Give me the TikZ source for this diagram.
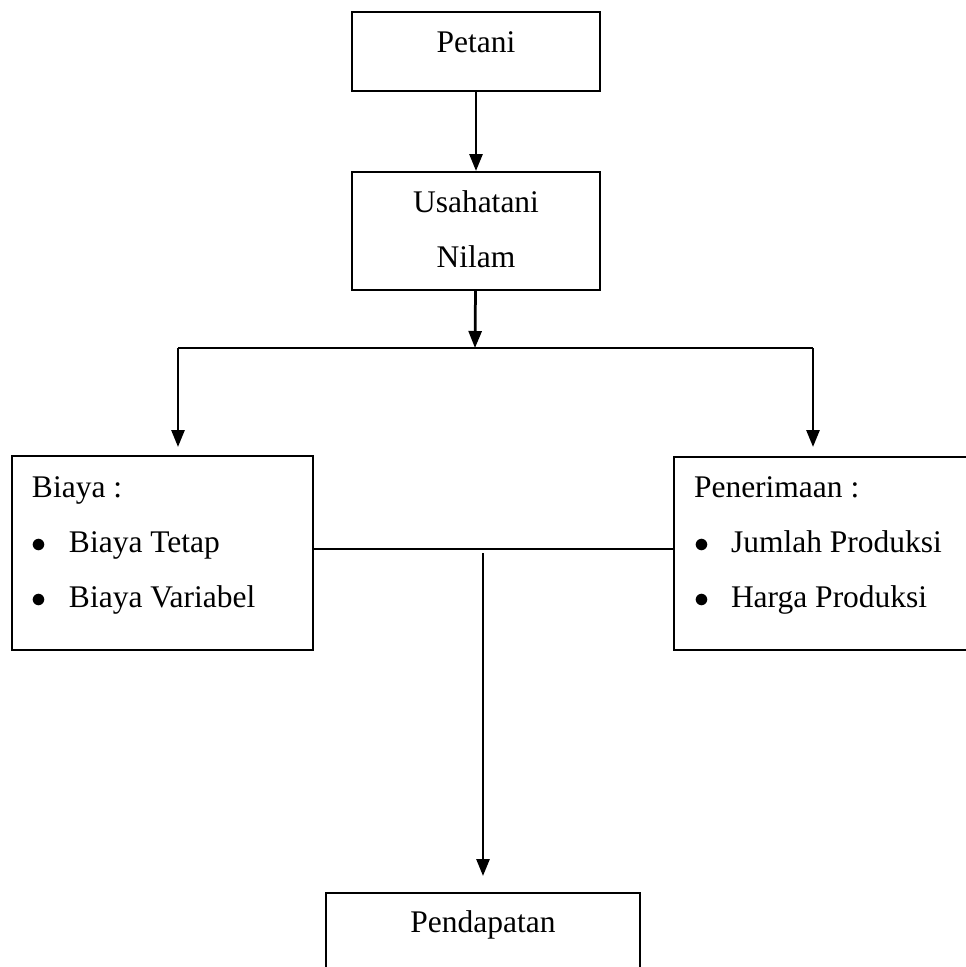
\documentclass[tikz,border=0pt]{standalone}
\usepackage{fontspec}
\setmainfont{Liberation Serif}
\usetikzlibrary{arrows.meta}
\tikzset{
  kotak/.style={draw, line width=0.8pt, inner sep=0pt, font=\fontsize{12.6pt}{22pt}\selectfont},
  daftar/.style={kotak, align=flush left, inner xsep=8pt, inner ysep=0pt, text width=104.4pt,
    minimum width=120.4pt, minimum height=77.6pt, text height=16.4pt, text depth=61.2pt},
  panah/.style={line width=1.1pt, -{Triangle[length=6.8pt,width=5.2pt]}},
  garis/.style={line width=0.6pt}
}
\newcommand{\butir}{\makebox[14.8pt][l]{$\bullet$}}

\begin{document}
\begin{tikzpicture}[x=0.4pt,y=-0.4pt]
\useasboundingbox (0,0) rectangle (966,967);
\clip (0,0) rectangle (966,967);
\node[kotak, minimum width=99.2pt, minimum height=31.6pt, text height=16pt, text depth=15.6pt]
  (petani) at (476,51.5) {Petani};
\node[kotak, align=flush center, text width=99.2pt, minimum height=47.2pt, text height=16pt, text depth=31.2pt]
  (usaha) at (476,231) {Usahatani\\Nilam};
\node[daftar] (biaya) at (162.5,553) {Biaya :\\\butir Biaya Tetap\\\butir Biaya Variabel};
\node[daftar, minimum height=77.2pt, text height=16pt, text depth=61.2pt]
  (terima) at (824.5,553.5) {Penerimaan :\\\butir Jumlah Produksi\\\butir Harga Produksi};
\node[kotak, minimum width=125.6pt, minimum height=47.2pt, text height=15.6pt, text depth=31.6pt]
  (dapat) at (483,952) {Pendapatan};
% cabang ke biaya dan penerimaan
\coordinate (bagi) at (475,348);
\coordinate (bagiL) at (178,348);
\coordinate (bagiR) at (813,348);
\coordinate (temu) at (483,553);
\draw[panah] (petani) -- (usaha);
\draw[panah] (usaha) -- (bagi);
\draw[garis] (bagiL) -- (bagiR);
\draw[panah, shorten >=3.2pt] (bagiL) -- (bagiL |- biaya.north);
\draw[panah, shorten >=3.6pt] (bagiR) -- (bagiR |- terima.north);
\draw[garis] ([yshift=1.6pt]biaya.east) -- ([yshift=1.6pt]biaya.east -| terima.west);
\draw[panah, shorten >=6.4pt] (temu) -- (dapat.north);
\end{tikzpicture}
\end{document}
